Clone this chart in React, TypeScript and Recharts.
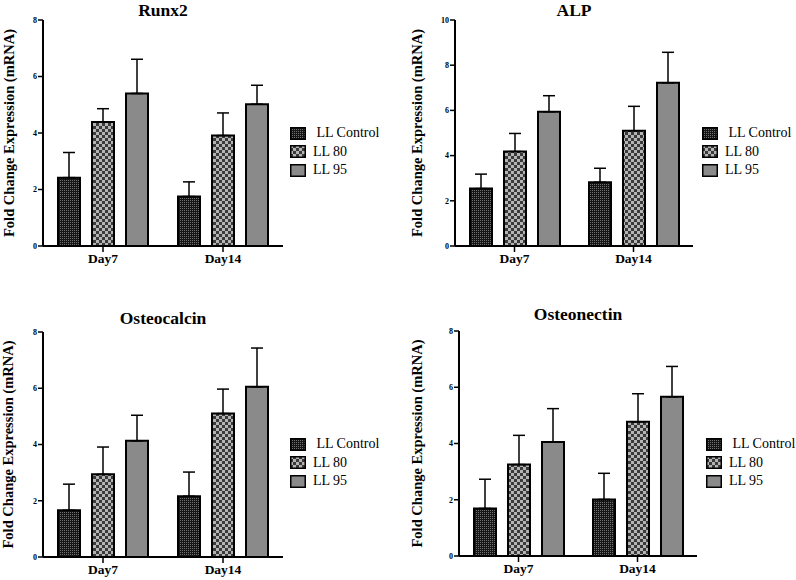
import React from 'react';
import { BarChart, Bar, XAxis, YAxis, ErrorBar } from 'recharts';

const days = ['Day7', 'Day14'];
const seriesNames = [' LL Control', 'LL 80', 'LL 95'];
const ticksTo8 = [0, 2, 4, 6, 8];
const ticksTo10 = [0, 2, 4, 6, 8, 10];

// one row per series (Control, LL 80, LL 95), one value per day
const runx2Means = [[2.42, 1.75], [4.39, 3.91], [5.4, 5.02]];
const runx2Tops = [[3.31, 2.27], [4.86, 4.71], [6.61, 5.69]];

const alpMeans = [[2.54, 2.82], [4.18, 5.1], [5.94, 7.22]];
const alpTops = [[3.18, 3.44], [4.98, 6.18], [6.65, 8.57]];

const osteocalcinMeans = [[1.66, 2.16], [2.94, 5.1], [4.13, 6.05]];
const osteocalcinTops = [[2.59, 3.02], [3.91, 5.97], [5.04, 7.43]];

const osteonectinMeans = [[1.69, 2.01], [3.25, 4.77], [4.05, 5.66]];
const osteonectinTops = [[2.73, 2.94], [4.29, 5.77], [5.24, 6.74]];

const patterns = ['url(#pat-control)', 'url(#pat-ll80)', '#8a8a8a'];
const keys = ['s0', 's1', 's2'];
const serif = '"Liberation Serif", "Times New Roman", "DejaVu Serif", serif';

function buildRows(means: number[][], tops: number[][]) {
  return days.map((day, d) => {
    const row: any = { day };
    keys.forEach((k, i) => {
      row[k] = means[i][d];
      row['e' + i] = [0, +(tops[i][d] - means[i][d]).toFixed(2)];
    });
    return row;
  });
}

function Patterns() {
  return (
    <svg width={0} height={0} style={{ position: 'absolute' }}>
      <defs>
        <pattern id="pat-control" width={2} height={2} patternUnits="userSpaceOnUse">
          <rect width={2} height={2} fill="#161616" />
          <rect width={1} height={1} fill="#707070" />
        </pattern>
        <pattern id="pat-ll80" width={6} height={6} patternUnits="userSpaceOnUse">
          <rect width={6} height={6} fill="#3a3a3a" />
          <rect width={3} height={3} fill="#b4b4b4" />
          <rect x={3} y={3} width={3} height={3} fill="#b4b4b4" />
        </pattern>
      </defs>
    </svg>
  );
}

interface PanelProps {
  title: string;
  rows: any[];
  ticks: number[];
  x: number;
  y: number;
  width: number;
  height: number;
  plot: { l: number; t: number; r: number; b: number };
  labelDist: number;
  titleY: number;
  legendX: number;
  legendY: number;
}

function Panel({ title, rows, ticks, x, y, width, height, plot, labelDist, titleY, legendX, legendY }: PanelProps) {
  const yAxisW = 20;
  const xAxisH = 30;
  const titleCx = (plot.l + plot.r) / 2;
  return (
    <div style={{ position: 'absolute', left: x, top: y, width, height }}>
      <div
        style={{
          position: 'absolute',
          left: titleCx - 100,
          top: titleY - 10,
          width: 200,
          textAlign: 'center',
          fontWeight: 'bold',
          fontSize: 17.5,
          lineHeight: '20px',
          fontFamily: serif,
        }}
      >
        {title}
      </div>
      <BarChart
        width={width}
        height={height}
        data={rows}
        barGap={12}
        margin={{
          top: plot.t,
          right: width - plot.r,
          left: plot.l - yAxisW,
          bottom: height - plot.b - xAxisH,
        }}
      >
        <XAxis
          dataKey="day"
          height={xAxisH}
          axisLine={{ stroke: '#000', strokeWidth: 2 }}
          tickLine={{ stroke: '#000', strokeWidth: 1.5 }}
          tickSize={6}
          tickMargin={1}
          tick={{ fill: '#000', fontSize: 13.5, fontWeight: 'bold', style: { fontFamily: serif } }}
        />
        <YAxis
          width={yAxisW}
          domain={[0, ticks[ticks.length - 1]]}
          ticks={ticks}
          interval={0}
          axisLine={{ stroke: '#000', strokeWidth: 2 }}
          tickLine={{ stroke: '#000', strokeWidth: 1.5 }}
          tickSize={5}
          tickMargin={1}
          tick={{ fill: '#000', fontSize: 8, fontWeight: 'bold', style: { fontFamily: serif } }}
          label={{
            content: (p: any) => {
              const vb = p.viewBox || {};
              const cx = plot.l - labelDist;
              const cy = (vb.y ?? plot.t) + (vb.height ?? plot.b - plot.t) / 2;
              return (
                <text
                  x={cx}
                  y={cy}
                  transform={`rotate(-90 ${cx} ${cy})`}
                  textAnchor="middle"
                  dominantBaseline="central"
                  fontSize={14.5}
                  fontWeight="bold"
                  fill="#000"
                  style={{ fontFamily: serif }}
                >
                  Fold Change Expression (mRNA)
                </text>
              );
            },
          }}
        />
        {keys.map((k, i) => (
          <Bar
            key={k}
            dataKey={k}
            name={seriesNames[i]}
            fill={patterns[i]}
            stroke="#000"
            strokeWidth={2}
            barSize={22}
            isAnimationActive={false}
          >
            <ErrorBar dataKey={'e' + i} direction="y" width={6} stroke="#000" strokeWidth={1.5} />
          </Bar>
        ))}
      </BarChart>
      <div style={{ position: 'absolute', left: legendX, top: legendY, fontFamily: serif }}>
        {seriesNames.map((name, i) => (
          <div key={name} style={{ display: 'flex', alignItems: 'center', height: 18.5 }}>
            <svg width={16} height={13} style={{ display: 'block' }}>
              <rect x={0.75} y={0.75} width={14.5} height={11.5} fill={patterns[i]} stroke="#000" strokeWidth={1.5} />
            </svg>
            <span style={{ marginLeft: 7, fontSize: 14, whiteSpace: 'pre', color: '#000' }}>{name}</span>
          </div>
        ))}
      </div>
    </div>
  );
}

export default function App() {
  return (
    <div
      style={{
        position: 'absolute',
        left: 0,
        top: 0,
        width: 796,
        height: 580,
        background: '#fff',
        fontFamily: serif,
        overflow: 'hidden',
      }}
    >
      <Patterns />
      <Panel
        title="Runx2"
        rows={buildRows(runx2Means, runx2Tops)}
        ticks={ticksTo8}
        x={0}
        y={0}
        width={400}
        height={290}
        plot={{ l: 43, t: 20, r: 283, b: 246 }}
        labelDist={34}
        titleY={10}
        legendX={290}
        legendY={124}
      />
      <Panel
        title="ALP"
        rows={buildRows(alpMeans, alpTops)}
        ticks={ticksTo10}
        x={400}
        y={0}
        width={396}
        height={290}
        plot={{ l: 55, t: 20, r: 293, b: 246 }}
        labelDist={38}
        titleY={10}
        legendX={302}
        legendY={124}
      />
      <Panel
        title="Osteocalcin"
        rows={buildRows(osteocalcinMeans, osteocalcinTops)}
        ticks={ticksTo8}
        x={0}
        y={290}
        width={400}
        height={290}
        plot={{ l: 43, t: 42, r: 283, b: 267 }}
        labelDist={35}
        titleY={28}
        legendX={290}
        legendY={145}
      />
      <Panel
        title="Osteonectin"
        rows={buildRows(osteonectinMeans, osteonectinTops)}
        ticks={ticksTo8}
        x={400}
        y={290}
        width={396}
        height={290}
        plot={{ l: 59, t: 41, r: 297, b: 266 }}
        labelDist={42}
        titleY={24}
        legendX={306}
        legendY={145}
      />
    </div>
  );
}
